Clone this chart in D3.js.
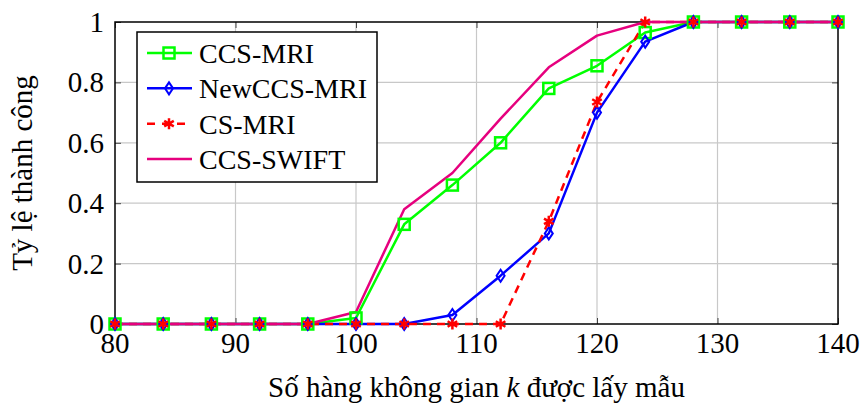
<!DOCTYPE html>
<html>
<head>
<meta charset="utf-8">
<script src="https://cdn.jsdelivr.net/npm/d3@7"></script>
<style>
  body { margin: 0; background: #fff; }
  svg { display: block; }
</style>
</head>
<body>
<div id="chart"></div>
<script>
// so hang k duoc lay mau
var kValues = [80, 84, 88, 92, 96, 100, 104, 108, 112, 116, 120, 124, 128, 132, 136, 140];

var ccsMri     = [0, 0, 0, 0, 0, 0.02, 0.33, 0.46, 0.60, 0.78, 0.855, 0.965, 1, 1, 1, 1];
var newCcsMri  = [0, 0, 0, 0, 0, 0, 0, 0.03, 0.16, 0.30, 0.70, 0.935, 1, 1, 1, 1];
var csMri      = [0, 0, 0, 0, 0, 0, 0, 0, 0, 0.34, 0.735, 1, 1, 1, 1, 1];
var ccsSwift   = [0, 0, 0, 0, 0, 0.04, 0.38, 0.50, 0.68, 0.85, 0.955, 1, 1, 1, 1, 1];

var seriesNames = ["CCS-MRI", "NewCCS-MRI", "CS-MRI", "CCS-SWIFT"];
var xTicks = [80, 90, 100, 110, 120, 130, 140];
var yTicks = [0, 0.2, 0.4, 0.6, 0.8, 1];

var series = [
    {name: seriesNames[0], values: ccsMri, color: "#00ff00", mark: "square", dash: null},
    {name: seriesNames[1], values: newCcsMri, color: "#0000ff", mark: "diamond", dash: null},
    {name: seriesNames[2], values: csMri, color: "#ff0000", mark: "star", dash: "8,6"},
    {name: seriesNames[3], values: ccsSwift, color: "#e6007e", mark: null, dash: null}
];

var serif = "'Liberation Serif', 'DejaVu Serif', serif";

var svg = d3.select("#chart").append("svg")
        .attr("width", 865)
        .attr("height", 404)
        .style("font-family", serif),
    margin = {top: 22, right: 27, bottom: 80, left: 115},
    width = 865 - margin.left - margin.right,
    height = 404 - margin.top - margin.bottom;

var x = d3.scaleLinear().domain([80, 140]).range([0, width]);
var y = d3.scaleLinear().domain([0, 1]).range([height, 0]);

var g = svg.append("g")
    .attr("transform", "translate(" + margin.left + "," + margin.top + ")");

// grid
g.append("g").selectAll("line")
    .data(xTicks.slice(1, -1))
    .enter().append("line")
    .attr("x1", function (d) { return x(d); })
    .attr("x2", function (d) { return x(d); })
    .attr("y1", 0).attr("y2", height)
    .attr("stroke", "#c8c8c8").attr("stroke-width", 1.2);

g.append("g").selectAll("line")
    .data(yTicks.slice(1, -1))
    .enter().append("line")
    .attr("y1", function (d) { return y(d); })
    .attr("y2", function (d) { return y(d); })
    .attr("x1", 0).attr("x2", width)
    .attr("stroke", "#c8c8c8").attr("stroke-width", 1.2);

// inner ticks, pgfplots style
var tickLen = 6;
g.append("g").call(d3.axisBottom(x).tickValues(xTicks).tickSize(-tickLen).tickFormat(""))
    .attr("transform", "translate(0," + height + ")")
    .call(function (a) { a.select(".domain").remove(); });
g.append("g").call(d3.axisTop(x).tickValues(xTicks).tickSize(-tickLen).tickFormat(""))
    .call(function (a) { a.select(".domain").remove(); });
g.append("g").call(d3.axisLeft(y).tickValues(yTicks).tickSize(-tickLen).tickFormat(""))
    .call(function (a) { a.select(".domain").remove(); });
g.append("g").call(d3.axisRight(y).tickValues(yTicks).tickSize(-tickLen).tickFormat(""))
    .attr("transform", "translate(" + width + ",0)")
    .call(function (a) { a.select(".domain").remove(); });
g.selectAll(".tick line").attr("stroke", "#444").attr("stroke-width", 1);

// frame
g.append("rect")
    .attr("width", width).attr("height", height)
    .attr("fill", "none").attr("stroke", "#000").attr("stroke-width", 1.5);

// tick labels
g.append("g").selectAll("text")
    .data(xTicks)
    .enter().append("text")
    .attr("x", function (d) { return x(d); })
    .attr("y", height + 29)
    .attr("text-anchor", "middle")
    .style("font-family", serif)
    .style("font-size", "29px")
    .text(function (d) { return d; });

g.append("g").selectAll("text")
    .data(yTicks)
    .enter().append("text")
    .attr("x", -11)
    .attr("y", function (d) { return y(d) + 10; })
    .attr("text-anchor", "end")
    .style("font-family", serif)
    .style("font-size", "29px")
    .text(function (d) { return d; });

// axis titles
var xt = svg.append("text")
    .attr("x", margin.left + width / 2)
    .attr("y", 397)
    .attr("text-anchor", "middle")
    .style("font-family", serif)
    .style("font-size", "29px");
xt.append("tspan").text("Số hàng không gian ");
xt.append("tspan").style("font-style", "italic").text("k");
xt.append("tspan").text(" được lấy mẫu");

svg.append("text")
    .attr("transform", "translate(32," + (margin.top + height / 2) + ") rotate(-90)")
    .attr("text-anchor", "middle")
    .style("font-family", serif)
    .style("font-size", "29px")
    .text("Tỷ lệ thành công");

// marker drawing
function drawMark(sel, s) {
    if (s.mark === "square") {
        sel.append("rect")
            .attr("x", -5.5).attr("y", -5.5)
            .attr("width", 11).attr("height", 11)
            .attr("fill", "none")
            .attr("stroke", s.color).attr("stroke-width", 2.5);
    } else if (s.mark === "diamond") {
        sel.append("path")
            .attr("d", "M0,-6L4,0L0,6L-4,0Z")
            .attr("fill", "none")
            .attr("stroke", s.color).attr("stroke-width", 2);
    } else if (s.mark === "star") {
        sel.append("path")
            .attr("d", "M0,-5.5L0,5.5M-4.8,-2.75L4.8,2.75M-4.8,2.75L4.8,-2.75")
            .attr("fill", "none")
            .attr("stroke", s.color).attr("stroke-width", 2.5);
    }
}

var line = d3.line()
    .x(function (d, i) { return x(kValues[i]); })
    .y(function (d) { return y(d); });

series.forEach(function (s) {
    g.append("path")
        .datum(s.values)
        .attr("d", line)
        .attr("fill", "none")
        .attr("stroke", s.color)
        .attr("stroke-width", 2.5)
        .attr("stroke-dasharray", s.dash)
        .attr("stroke-linejoin", "round");
});

series.forEach(function (s) {
    if (!s.mark) return;
    g.append("g").selectAll("g")
        .data(s.values)
        .enter().append("g")
        .attr("transform", function (d, i) {
            return "translate(" + x(kValues[i]) + "," + y(d) + ")";
        })
        .each(function () { drawMark(d3.select(this), s); });
});

// legend
var legend = svg.append("g").attr("transform", "translate(137,32)");
legend.append("rect")
    .attr("width", 240).attr("height", 150)
    .attr("fill", "#fff").attr("stroke", "#000").attr("stroke-width", 1.5);

var rowY = d3.scalePoint().domain(seriesNames).range([21, 127]);

var item = legend.selectAll(".item")
    .data(series)
    .enter().append("g")
    .attr("class", "item")
    .attr("transform", function (d) { return "translate(0," + rowY(d.name) + ")"; });

item.append("line")
    .attr("x1", 10).attr("x2", 55)
    .attr("stroke", function (d) { return d.color; })
    .attr("stroke-width", 2.5)
    .attr("stroke-dasharray", function (d) { return d.dash ? "8,7" : null; });

item.each(function (d) {
    var m = d3.select(this).append("g").attr("transform", "translate(32,0)");
    drawMark(m, d);
});

item.append("text")
    .attr("x", 62)
    .attr("y", 10)
    .style("font-family", serif)
    .style("font-size", "28px")
    .text(function (d) { return d.name; });
</script>
</body>
</html>
